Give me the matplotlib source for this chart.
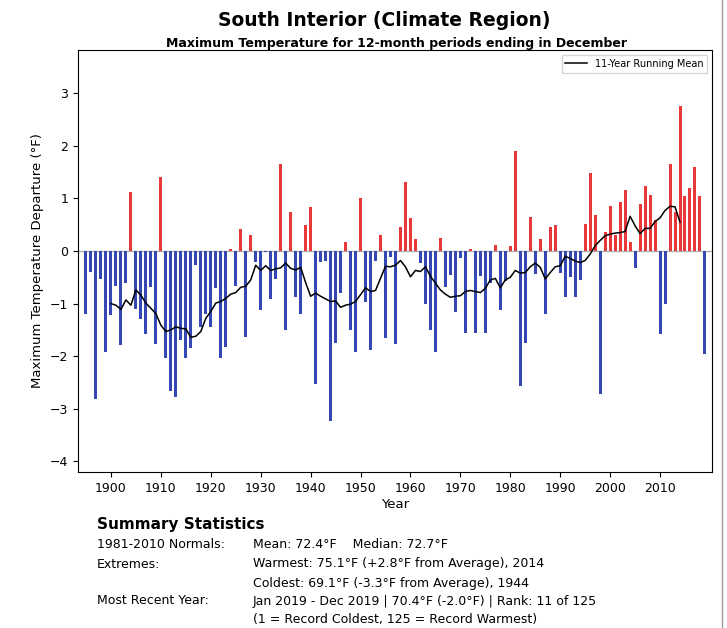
import numpy as np
import matplotlib
matplotlib.use("Agg")
import matplotlib.pyplot as plt
from matplotlib.lines import Line2D

# yearly departures (deg F), 1895-2019
years = np.arange(1895, 2020)
departure = [
    -1.20, -0.39, -2.81, -0.54, -1.91, -1.22, -0.67, -1.79, -0.61, 1.13,   # 1895-1904
    -1.10, -1.29, -1.58, -0.68, -1.76, 1.41, -2.03, -2.67, -2.77, -1.69,   # 1905-1914
    -2.03, -1.85, -0.27, -1.44, -1.19, -1.44, -0.71, -2.03, -1.82, 0.04,   # 1915-1924
    -0.66, 0.42, -1.64, 0.30, -0.20, -1.12, -0.02, -0.91, -0.53, 1.65,     # 1925-1934
    -1.51, 0.74, -0.88, -1.19, 0.49, 0.83, -2.52, -0.20, -0.19, -3.24,     # 1935-1944
    -1.74, -0.79, 0.18, -1.51, -1.91, 1.01, -0.96, -1.88, -0.19, 0.30,     # 1945-1954
    -1.65, -0.11, -1.76, 0.45, 1.31, 0.62, 0.23, -0.23, -1.01, -1.50,      # 1955-1964
    -1.91, 0.25, -0.69, -0.46, -1.15, -0.13, -1.55, 0.04, -1.55, -0.48,    # 1965-1974
    -1.55, -0.61, 0.11, -1.13, -0.57, 0.10, 1.90, -2.57, -1.74, 0.65,      # 1975-1984
    -0.44, 0.23, -1.19, 0.46, 0.49, -0.41, -0.87, -0.49, -0.87, -0.56,     # 1985-1994
    0.51, 1.48, 0.69, -2.72, 0.37, 0.86, 0.30, 0.94, 1.15, 0.18,           # 1995-2004
    -0.33, 0.89, 1.24, 1.06, 0.59, -1.58, -1.01, 1.65, 0.75, 2.76,         # 2005-2014
    1.05, 1.19, 1.60, 1.05, -1.96,                                         # 2015-2019
]

# 11-year running mean, 1900-2014
mean_years = np.arange(1900, 2015)
running_mean = [
    -1.00, -1.03, -1.11, -0.93, -1.03, -0.74, -0.84, -0.99, -1.09, -1.19,  # 1900-1909
    -1.41, -1.53, -1.50, -1.44, -1.47, -1.48, -1.64, -1.62, -1.53, -1.28,  # 1910-1919
    -1.15, -0.99, -0.96, -0.90, -0.82, -0.79, -0.69, -0.67, -0.55, -0.27,  # 1920-1929
    -0.37, -0.28, -0.37, -0.34, -0.32, -0.23, -0.33, -0.36, -0.31, -0.60,  # 1930-1939
    -0.86, -0.80, -0.86, -0.91, -0.96, -0.95, -1.07, -1.03, -1.01, -0.96,  # 1940-1949
    -0.83, -0.70, -0.77, -0.75, -0.52, -0.29, -0.30, -0.27, -0.18, -0.30,  # 1950-1959
    -0.49, -0.37, -0.39, -0.30, -0.48, -0.61, -0.74, -0.82, -0.88, -0.86,  # 1960-1969
    -0.85, -0.77, -0.75, -0.77, -0.79, -0.71, -0.55, -0.52, -0.70, -0.55,  # 1970-1979
    -0.50, -0.37, -0.42, -0.41, -0.30, -0.23, -0.31, -0.53, -0.41, -0.30,  # 1980-1989
    -0.28, -0.10, -0.14, -0.19, -0.22, -0.18, -0.06, 0.10, 0.20, 0.29,     # 1990-1999
    0.32, 0.34, 0.35, 0.37, 0.66, 0.48, 0.33, 0.43, 0.43, 0.56,            # 2000-2009
    0.63, 0.77, 0.85, 0.84, 0.55,                                          # 2010-2014
]

assert len(departure) == len(years)
assert len(running_mean) == len(mean_years)

departure = np.array(departure)
colors = np.where(departure >= 0, "#e8393a", "#3447b3")

fig = plt.figure(figsize=(7.27, 6.28), dpi=100)
ax = fig.add_axes([0.1073, 0.2484, 0.872, 0.672])

ax.axhline(0, color="#b0b0b0", lw=1, zorder=1)
ax.bar(years, departure, width=0.6, color=colors, zorder=2)
ax.plot(mean_years, running_mean, color="black", lw=1.1, zorder=3)

ax.set_xlim(1893.4, 2020.4)
ax.set_ylim(-4.2, 3.82)
ax.set_xticks(np.arange(1900, 2011, 10))
ax.set_yticks(np.arange(-4, 4, 1))
ax.tick_params(labelsize=9)
ax.set_xlabel("Year", fontsize=9.5, labelpad=2)
ax.set_ylabel("Maximum Temperature Departure (°F)", fontsize=9.5)

handle = Line2D([], [], color="black", lw=1.1)
ax.legend([handle], ["11-Year Running Mean"], loc="upper right", fontsize=7,
          frameon=True, fancybox=False, edgecolor="#cccccc", handlelength=2.2,
          borderaxespad=0.5)

fig.text(0.528, 0.968, "South Interior (Climate Region)", ha="center", va="center",
         fontsize=13.5, fontweight="bold")
fig.text(0.545, 0.931, "Maximum Temperature for 12-month periods ending in December",
         ha="center", va="center", fontsize=9, fontweight="bold")

# summary block
x1, x2 = 97 / 727, 253 / 727
fig.text(x1, 1 - 524 / 628, "Summary Statistics", fontsize=11, fontweight="bold", va="center")
rows = [
    (545, "1981-2010 Normals:", "Mean: 72.4°F    Median: 72.7°F"),
    (564, "Extremes:", "Warmest: 75.1°F (+2.8°F from Average), 2014"),
    (583, "", "Coldest: 69.1°F (-3.3°F from Average), 1944"),
    (601, "Most Recent Year:", "Jan 2019 - Dec 2019 | 70.4°F (-2.0°F) | Rank: 11 of 125"),
    (619, "", "(1 = Record Coldest, 125 = Record Warmest)"),
]
for ypix, left, right in rows:
    fig.text(x1, 1 - ypix / 628, left, fontsize=9, va="center")
    fig.text(x2, 1 - ypix / 628, right, fontsize=9, va="center")

# screenshot edge on the right
fig.add_artist(Line2D([722 / 727, 722 / 727], [0, 1], color="#999999", lw=1))

fig.savefig("out.png", dpi=100)
